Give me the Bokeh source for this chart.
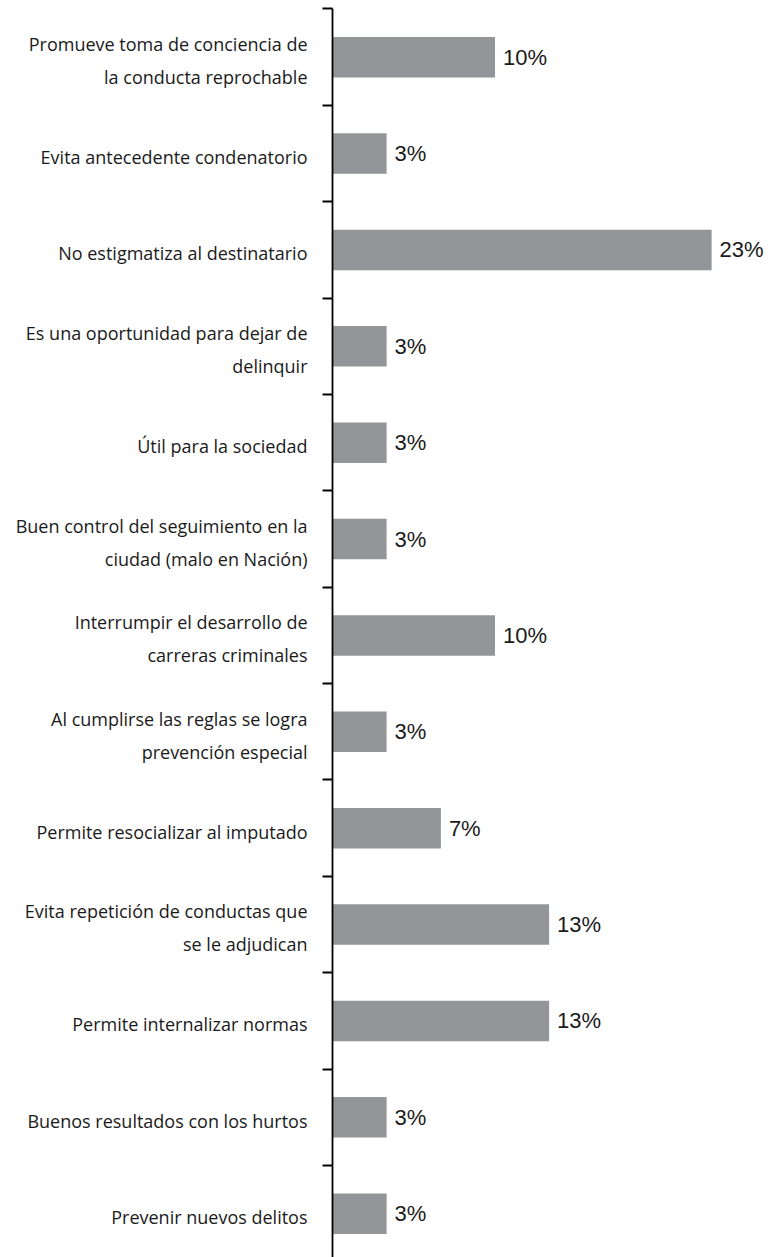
import numpy as np
from bokeh.plotting import figure
from bokeh.models import Range1d, FixedTicker, ColumnDataSource, LabelSet
from bokeh.core.properties import value
from bokeh.embed import file_html
from bokeh.resources import INLINE

categories = [
    "Promueve toma de conciencia de\nla conducta reprochable",
    "Evita antecedente condenatorio",
    "No estigmatiza al destinatario",
    "Es una oportunidad para dejar de\ndelinquir",
    "Útil para la sociedad",
    "Buen control del seguimiento en la\nciudad (malo en Nación)",
    "Interrumpir el desarrollo de\ncarreras criminales",
    "Al cumplirse las reglas se logra\nprevención especial",
    "Permite resocializar al imputado",
    "Evita repetición de conductas que\nse le adjudican",
    "Permite internalizar normas",
    "Buenos resultados con los hurtos",
    "Prevenir nuevos delitos",
]
values = [10.0, 3.33, 23.33, 3.33, 3.33, 3.33, 10.0, 3.33, 6.67, 13.33, 13.33, 3.33, 3.33]
value_labels = ["10%", "3%", "23%", "3%", "3%", "3%", "10%", "3%", "7%", "13%", "13%", "3%", "3%"]

n = len(categories)
ys = np.arange(n) + 0.5
bounds = list(range(n + 1))
label_pos = [float(v) + 0.035 for v in ys]

src = ColumnDataSource(dict(y=ys, v=values, vl=value_labels, zero=[0] * n))

p = figure(width=774, height=1257, output_backend="svg", toolbar_location=None,
           x_range=Range1d(0, 27.2), y_range=Range1d(12.955, -0.005),
           min_border_left=332, min_border_right=0, min_border_top=8, min_border_bottom=0)
p.outline_line_color = None
p.xaxis.visible = False
p.xgrid.visible = False
p.ygrid.visible = False
p.background_fill_color = "white"
p.border_fill_color = "white"

yax = p.yaxis[0]
yax.ticker = FixedTicker(ticks=label_pos, minor_ticks=bounds)
yax.major_label_overrides = {lp: c for lp, c in zip(label_pos, categories)}
yax.major_label_text_font = "Open Sans"
yax.major_label_text_font_size = "18px"
yax.major_label_text_color = "#1a1a1a"
yax.major_label_text_line_height = 1.38
yax.major_label_standoff = 15
yax.major_tick_out = 0
yax.major_tick_in = 0
yax.major_tick_line_color = None
yax.minor_tick_out = 10
yax.minor_tick_in = 0
yax.minor_tick_line_color = "black"
yax.minor_tick_line_width = 1.8
yax.axis_line_color = "black"
yax.axis_line_width = 1.8

p.hbar(y="y", left="zero", right="v", height=0.42, source=src,
       fill_color="#939598", line_color=None)

vlab = LabelSet(x="v", y="y", text="vl", source=src, x_offset=8,
                text_baseline="middle", text_align="left",
                text_font=value("Liberation Sans"), text_font_size="22px",
                text_color="#1a1a1a")
p.add_layout(vlab)

open("out.html", "w").write(file_html(p, INLINE))
